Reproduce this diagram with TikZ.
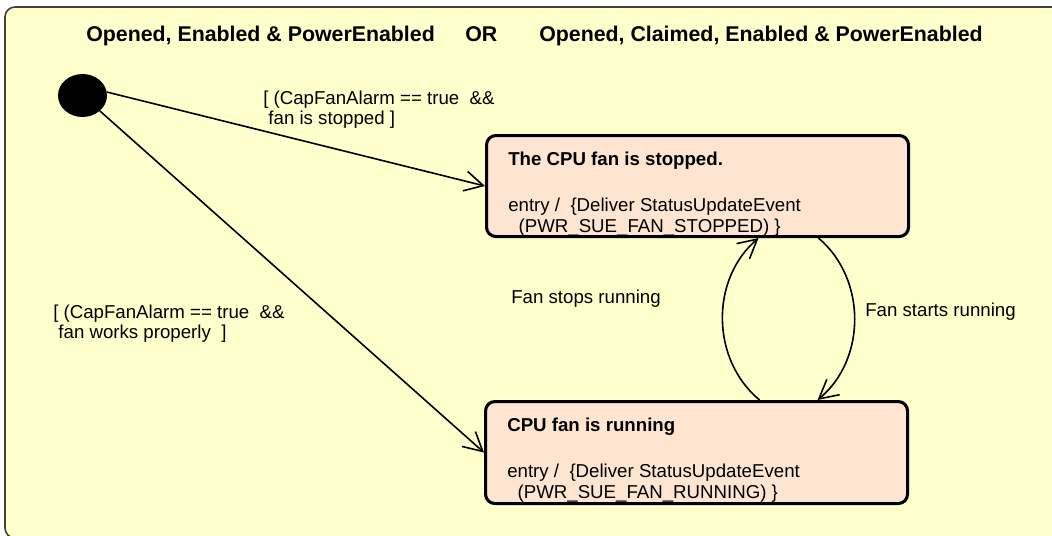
\documentclass[tikz,border=0pt]{standalone}
\usepackage{fontspec}
\setmainfont{Liberation Sans}
\usepackage{xcolor}
\definecolor{bgyel}{HTML}{FFFFCC}
\definecolor{stfill}{HTML}{FDE5D2}
\usetikzlibrary{arrows.meta,positioning,calc,shapes.geometric}
\tikzset{
  >={Straight Barb[length=14pt,width=15pt]},
  frame/.style={draw=black!75,fill=bgyel,line width=1.2pt,rounded corners=7.5pt},
  state/.style={draw=black,fill=stfill,line width=2.3pt,rounded corners=7pt,minimum width=316.5pt,inner sep=0,anchor=north west},
  init/.style={ellipse,fill=black,minimum width=36.75pt,minimum height=32.25pt,inner sep=0},
  txt/.style={font=\fontsize{14}{15.5}\selectfont,align=left,inner sep=0,anchor=north west},
  lab/.style={font=\fontsize{14}{15.5}\selectfont,inner sep=0,anchor=base west},
  hd/.style={font=\fontsize{16}{19}\selectfont\bfseries,inner sep=0,anchor=base west},
  arr/.style={->,line width=1.2pt},
}
\begin{document}
\begin{tikzpicture}[x=0.75pt,y=-0.75pt]
\useasboundingbox (0,0) rectangle (1052,535);
\clip (0,0) rectangle (1052,535);
\draw[frame] (5,7) rectangle (1090,538);
\node[hd] (hdA) at (86,42) {Opened, Enabled \& PowerEnabled};
\node[hd] (hdOr) at (465,42) {OR};
\node[hd] (hdB) at (539,42) {Opened, Claimed, Enabled \& PowerEnabled};
\node[init] (init) at (82.5,95.5) {};
\node[state,minimum height=75.75pt] (stop) at (485,134) {};
\node[state,minimum height=76.5pt] (run) at (484,400) {};
\node[txt] (stopT) at ($(stop.north west)+(23,17)$) {\strut\textbf{The CPU fan is stopped.}\\[19pt]entry /\ \ \{Deliver StatusUpdateEvent\\\ \ (PWR\_SUE\_FAN\_STOPPED)\ \}};
\node[txt] (runT) at ($(run.north west)+(23,17)$) {\strut\textbf{CPU fan is running}\\[19pt]entry /\ \ \{Deliver StatusUpdateEvent\\\ \ (PWR\_SUE\_FAN\_RUNNING)\ \}};
\node[txt] (gStop) at (263,89.5) {\strut[ (CapFanAlarm == true\ \ \&\&\\\ fan is stopped ]};
\node[txt] (gRun) at (53,303.5) {\strut[ (CapFanAlarm == true\ \ \&\&\\\ fan works properly\ \ ]};
\node[lab] (evStops) at (511,303) {Fan stops running};
\node[lab] (evStarts) at (865,316) {Fan starts running};
\draw[arr] (init.8) -- (stop.west);
\draw[arr] (init) -- (run.west);
\draw[arr] ($(run.north)+(63,0)$) to[bend left=50] ($(stop.south)+(61,0)$);
\draw[arr] ($(stop.south)+(121,0)$) to[bend left=50] ($(run.north)+(121,0)$);
\end{tikzpicture}
\end{document}
